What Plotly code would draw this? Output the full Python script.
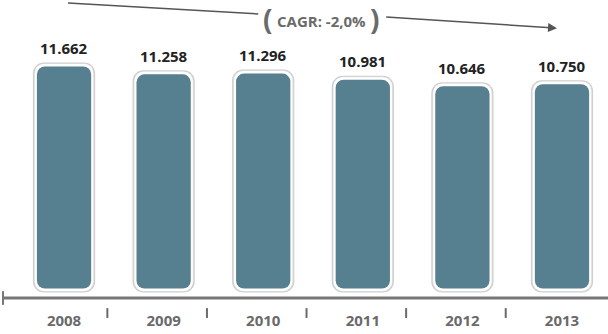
import plotly.graph_objects as go

years = ["2008", "2009", "2010", "2011", "2012", "2013"]
values = [11662, 11258, 11296, 10981, 10646, 10750]
labels = ["11.662", "11.258", "11.296", "10.981", "10.646", "10.750"]
cagr_text = "CAGR: -2,0%"

xs = list(range(len(years)))
bar_color = "#567f8f"
font = "Open Sans"
PX = 51.4      # y units per pixel

fig = go.Figure()

layers = [  # (width, pad in px, color, radius)
    (0.625, 1.5, "#cfcfcf", 11),
    (0.600, 0.5, "#e4e4e4", 10),
    (0.585, 0.0, "#ffffff", 9),
    (0.545, -2.5, bar_color, 8),
]

for w, pad, col, r in layers:
    fig.add_trace(go.Bar(x=xs, base=[-pad * PX] * len(xs), y=[v + 2 * pad * PX for v in values], width=w,
                         marker=dict(color=col, cornerradius=r, line=dict(width=0)), hoverinfo="skip"))

annotations = []
for x, v, t in zip(xs, values, labels):
    annotations.append(dict(x=x, y=v, text=t, showarrow=False, yanchor="bottom", yshift=4,
                            font=dict(family=font, size=15, color="#222222", weight="bold")))

annotations.append(dict(x=0.528, y=0.93, xref="paper", yref="paper", showarrow=False, text=cagr_text,
                        yanchor="middle", xanchor="center",
                        font=dict(family=font, size=15, color="#6a6a6a", weight="bold")))
annotations.append(dict(x=0.44, y=0.935, xref="paper", yref="paper", showarrow=False, text="(",
                        yanchor="middle", xanchor="center",
                        font=dict(family=font, size=28, color="#6a6a6a", weight="bold")))
annotations.append(dict(x=0.617, y=0.935, xref="paper", yref="paper", showarrow=False, text=")",
                        yanchor="middle", xanchor="center",
                        font=dict(family=font, size=28, color="#6a6a6a", weight="bold")))
# right arrow
annotations.append(dict(x=4.95, y=13500, ax=3.22, ay=14073, xref="x", yref="y", axref="x", ayref="y",
                        showarrow=True, arrowhead=2, arrowsize=1.2, arrowwidth=1.5, arrowcolor="#555555", text=""))

shapes = [
    dict(type="line", x0=0.04, y0=14792, x1=1.95, y1=14227, xref="x", yref="y",
         line=dict(color="#555555", width=1.5)),
    dict(type="line", x0=-0.613, x1=5.5, y0=0, y1=0, xref="x", yref="paper",
         line=dict(color="#777777", width=3)),
    dict(type="line", x0=-0.613, x1=-0.613, y0=0.023, y1=-0.023, xref="x", yref="paper",
         line=dict(color="#777777", width=2)),
]
for i in range(len(years) - 1):
    shapes.append(dict(type="line", x0=i + 0.435, x1=i + 0.435, y0=-0.034, y1=-0.067, xref="x", yref="paper",
                       line=dict(color="#6a6a6a", width=2)))

fig.update_layout(
    width=608, height=334, margin=dict(l=0, r=0, t=0, b=36),
    paper_bgcolor="white", plot_bgcolor="white", barmode="overlay", showlegend=False,
    xaxis=dict(range=[-0.643, 5.462], tickvals=xs, ticktext=years, showgrid=False, zeroline=False,
               showline=False, ticks="", ticklabelstandoff=12,
               tickfont=dict(family=font, size=15, color="#6a6a6a", weight="bold")),
    yaxis=dict(range=[-360, 14945], visible=False, showgrid=False, zeroline=False),
    annotations=annotations, shapes=shapes,
)
fig.write_html("out.html", config={"displayModeBar": False},
               post_script="document.body.style.margin='0';document.body.style.overflow='hidden';")
